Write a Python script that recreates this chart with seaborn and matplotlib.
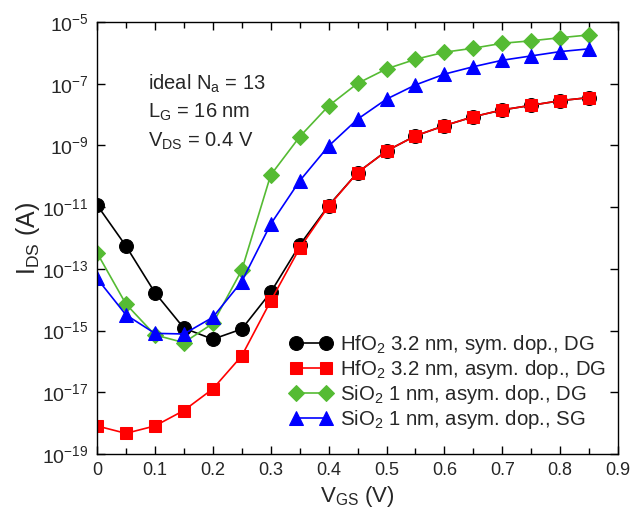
import numpy as np
import pandas as pd
import matplotlib
matplotlib.use("Agg")
import matplotlib.pyplot as plt
import seaborn as sns

# Gate voltage sweep (V)
vgs = [0.00, 0.05, 0.10, 0.15, 0.20, 0.25, 0.30, 0.35, 0.40, 0.45,
       0.50, 0.55, 0.60, 0.65, 0.70, 0.75, 0.80, 0.85]

# log10 of drain current (A) for each device
log_hfo2_sym_dg = [-10.93, -12.26, -13.77, -14.92, -15.28, -14.95, -13.76, -12.23, -10.95, -9.88,
                   -9.18, -8.69, -8.36, -8.07, -7.85, -7.70, -7.55, -7.45]
log_hfo2_asym_dg = [-18.09, -18.33, -18.09, -17.59, -16.89, -15.82, -14.04, -12.33, -10.97, -9.88,
                    -9.18, -8.69, -8.36, -8.07, -7.85, -7.70, -7.55, -7.45]
log_sio2_asym_dg = [-12.48, -14.14, -15.14, -15.39, -14.77, -13.04, -9.96, -8.72, -7.72, -6.99,
                    -6.52, -6.21, -5.98, -5.85, -5.69, -5.61, -5.51, -5.42]
log_sio2_asym_sg = [-13.31, -14.49, -15.09, -15.11, -14.57, -13.41, -11.55, -10.15, -9.02, -8.15,
                    -7.50, -7.04, -6.69, -6.45, -6.24, -6.10, -5.96, -5.87]

labels = [r"HfO$_2$ 3.2 nm, sym. dop., DG",
          r"HfO$_2$ 3.2 nm, asym. dop., DG",
          r"SiO$_2$ 1 nm, asym. dop., DG",
          r"SiO$_2$ 1 nm, asym. dop., SG"]
colors = ["black", "#ff0000", "#55bb33", "#0000ff"]
markers = ["o", "s", "D", "^"]
msizes = [10, 9, 8.5, 10]
series = [log_hfo2_sym_dg, log_hfo2_asym_dg, log_sio2_asym_dg, log_sio2_asym_sg]

x_ticks = [0, 0.1, 0.2, 0.3, 0.4, 0.5, 0.6, 0.7, 0.8, 0.9]
y_ticks_exp = [-19, -17, -15, -13, -11, -9, -7, -5]

info_lines = [r"ideal N$_\mathrm{a}$ = 13",
              r"L$_\mathrm{G}$ = 16 nm",
              r"V$_\mathrm{DS}$ = 0.4 V"]

sns.set_theme(style="ticks")
plt.rcParams["font.family"] = ["Liberation Sans", "DejaVu Sans"]
plt.rcParams["mathtext.fontset"] = "custom"
plt.rcParams["mathtext.rm"] = "Liberation Sans"
plt.rcParams["mathtext.it"] = "Liberation Sans:italic"
plt.rcParams["mathtext.bf"] = "Liberation Sans:bold"

fig = plt.figure(figsize=(6.32, 5.11), dpi=100)
ax = fig.add_axes([0.1535, 0.1115, 0.8245, 0.8455])

for vals, lab, col, mk, ms in zip(series, labels, colors, markers, msizes):
    df = pd.DataFrame({"VGS": vgs, "IDS": np.power(10.0, vals)})
    sns.lineplot(data=df, x="VGS", y="IDS", ax=ax, color=col, marker=mk,
                 markersize=ms, markeredgecolor=col, linewidth=1.2, label=lab)

ax.set_yscale("log")
ax.set_xlim(0, 0.9)
ax.set_ylim(1e-19, 1e-5)
ax.set_xticks(x_ticks)
ax.set_xticklabels([("0" if t == 0 else f"{t:.1f}") for t in x_ticks])
ax.set_xticks(np.arange(0.05, 0.9, 0.1), minor=True)
ax.set_yticks([10.0 ** e for e in y_ticks_exp])
ax.set_yticklabels([rf"$10^{{{e}}}$" for e in y_ticks_exp])
ax.yaxis.set_minor_locator(matplotlib.ticker.NullLocator())

ax.tick_params(which="both", direction="in", top=True, right=True,
               width=1, color="black", pad=6)
ax.tick_params(axis="x", labelsize=13)
ax.tick_params(axis="y", labelsize=14)
ax.tick_params(which="major", length=6)
ax.tick_params(which="minor", length=4)
for sp in ax.spines.values():
    sp.set_linewidth(1.0)
    sp.set_color("black")

ax.set_xlabel(r"V$_{\mathrm{GS}}$ (V)", fontsize=16, labelpad=3)
ax.set_ylabel(r"I$_{\mathrm{DS}}$ (A)", fontsize=18, labelpad=0)

for ypos, line in zip([0.8426, 0.7778, 0.7106], info_lines):
    ax.text(0.098, ypos, line, transform=ax.transAxes, fontsize=14.5,
            va="baseline", ha="left")

leg = ax.legend(loc="lower right", bbox_to_anchor=(1.0, 0.025), frameon=False,
                fontsize=14.7, numpoints=2, handlelength=2.1, handletextpad=0.35,
                labelspacing=0.1, borderaxespad=0.2)

fig.savefig("out.png", dpi=100)
